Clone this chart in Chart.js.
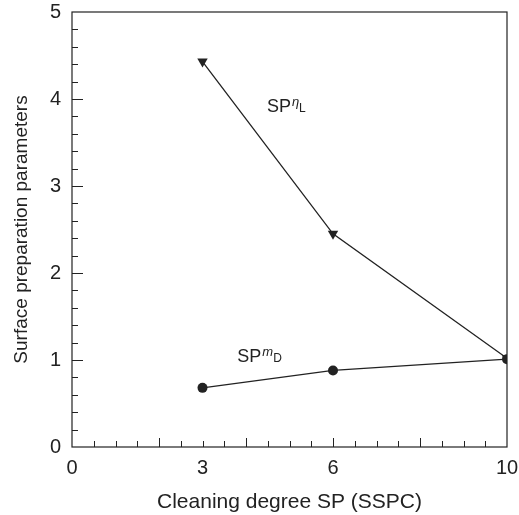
<!DOCTYPE html>
<html>
<head>
<meta charset="utf-8">
<script src="https://cdn.jsdelivr.net/npm/chart.js@4.4.0/dist/chart.umd.min.js"></script>
<style>
  html, body { margin: 0; padding: 0; background: #fff; }
  #wrap { width: 519px; height: 515px; }
</style>
</head>
<body>
<div id="wrap"><canvas id="chart" width="519" height="515"></canvas></div>
<script>
const cleaningDegree = [3, 6, 10];
const spNL = [4.43, 2.45, 1.02];
const spMD = [0.68, 0.88, 1.01];
const xLabelValues = [0, 3, 6, 10];
const yLabelValues = [0, 1, 2, 3, 4, 5];

const ink = '#222';
const fontFamily = '"Liberation Sans", Arial, Helvetica, sans-serif';

const toPoints = (ys) => cleaningDegree.map((x, i) => ({ x: x, y: ys[i] }));

// inward ticks, frame and the two curve labels
const framePlugin = {
    id: 'frame',
    afterDraw(chart) {
        const { ctx, chartArea: a, scales: { x, y } } = chart;
        ctx.save();
        ctx.strokeStyle = ink;
        ctx.lineWidth = 1.2;
        ctx.strokeRect(a.left, a.top, a.right - a.left, a.bottom - a.top);

        ctx.lineWidth = 1;
        ctx.beginPath();
        for (let v = 0.5; v < 10; v += 0.5) {
            const px = Math.round(x.getPixelForValue(v)) + 0.5;
            const len = (v % 2 === 0) ? 9 : 6;
            ctx.moveTo(px, a.bottom);
            ctx.lineTo(px, a.bottom - len);
        }
        for (let v = 0.2; v < 4.99; v += 0.2) {
            const py = Math.round(y.getPixelForValue(v)) + 0.5;
            const isMajor = Math.abs(v - Math.round(v)) < 0.01;
            ctx.moveTo(a.left, py);
            ctx.lineTo(a.left + (isMajor ? 11 : 6), py);
        }
        ctx.stroke();

        const drawLabel = (xv, yv, sup, sub) => {
            let px = x.getPixelForValue(xv);
            const py = y.getPixelForValue(yv);
            ctx.fillStyle = ink;
            ctx.textBaseline = 'alphabetic';
            ctx.textAlign = 'left';
            ctx.font = '18px ' + fontFamily;
            ctx.fillText('SP', px, py);
            px += ctx.measureText('SP').width + 1;
            ctx.font = 'italic 13px ' + fontFamily;
            ctx.fillText(sup, px, py - 6);
            px += ctx.measureText(sup).width;
            ctx.font = '12px ' + fontFamily;
            ctx.fillText(sub, px, py);
        };
        drawLabel(4.48, 3.85, 'η', 'L');
        drawLabel(3.8, 0.98, 'm', 'D');
        ctx.restore();
    }
};

new Chart(document.getElementById('chart'), {
    type: 'scatter',
    data: {
        datasets: [{
            label: 'SP nL',
            data: toPoints(spNL),
            showLine: true,
            borderColor: ink,
            borderWidth: 1.3,
            backgroundColor: ink,
            pointStyle: 'triangle',
            rotation: 180,
            pointRadius: 6,
            pointBorderWidth: 0
        }, {
            label: 'SP mD',
            data: toPoints(spMD),
            showLine: true,
            borderColor: ink,
            borderWidth: 1.3,
            backgroundColor: ink,
            pointStyle: 'circle',
            pointRadius: 5,
            pointBorderWidth: 0
        }]
    },
    options: {
        responsive: false,
        animation: false,
        layout: { padding: { left: 0, right: 12, top: 12, bottom: 0 } },
        plugins: { legend: { display: false }, tooltip: { enabled: false } },
        scales: {
            x: {
                type: 'linear',
                min: 0, max: 10,
                afterBuildTicks: (scale) => { scale.ticks = xLabelValues.map(v => ({ value: v })); },
                afterFit: (scale) => {
                    scale.height = 68;
                    scale.paddingLeft = 0;
                    scale.paddingRight = 0;
                },
                border: { display: false },
                grid: { display: false, drawTicks: false },
                ticks: { color: ink, padding: 9, font: { family: fontFamily, size: 20 } },
                title: {
                    display: true,
                    text: 'Cleaning degree SP (SSPC)',
                    color: ink,
                    font: { family: fontFamily, size: 21 },
                    padding: { top: 6, bottom: 0 }
                }
            },
            y: {
                type: 'linear',
                min: 0, max: 5,
                afterBuildTicks: (scale) => { scale.ticks = yLabelValues.map(v => ({ value: v })); },
                afterFit: (scale) => {
                    scale.width = 72;
                    scale.paddingTop = 0;
                    scale.paddingBottom = 0;
                },
                border: { display: false },
                grid: { display: false, drawTicks: false },
                ticks: { color: ink, padding: 11, font: { family: fontFamily, size: 20 } },
                title: {
                    display: true,
                    text: 'Surface preparation parameters',
                    color: ink,
                    font: { family: fontFamily, size: 19 },
                    padding: { top: 10, bottom: 0 }
                }
            }
        }
    },
    plugins: [framePlugin]
});
</script>
</body>
</html>
